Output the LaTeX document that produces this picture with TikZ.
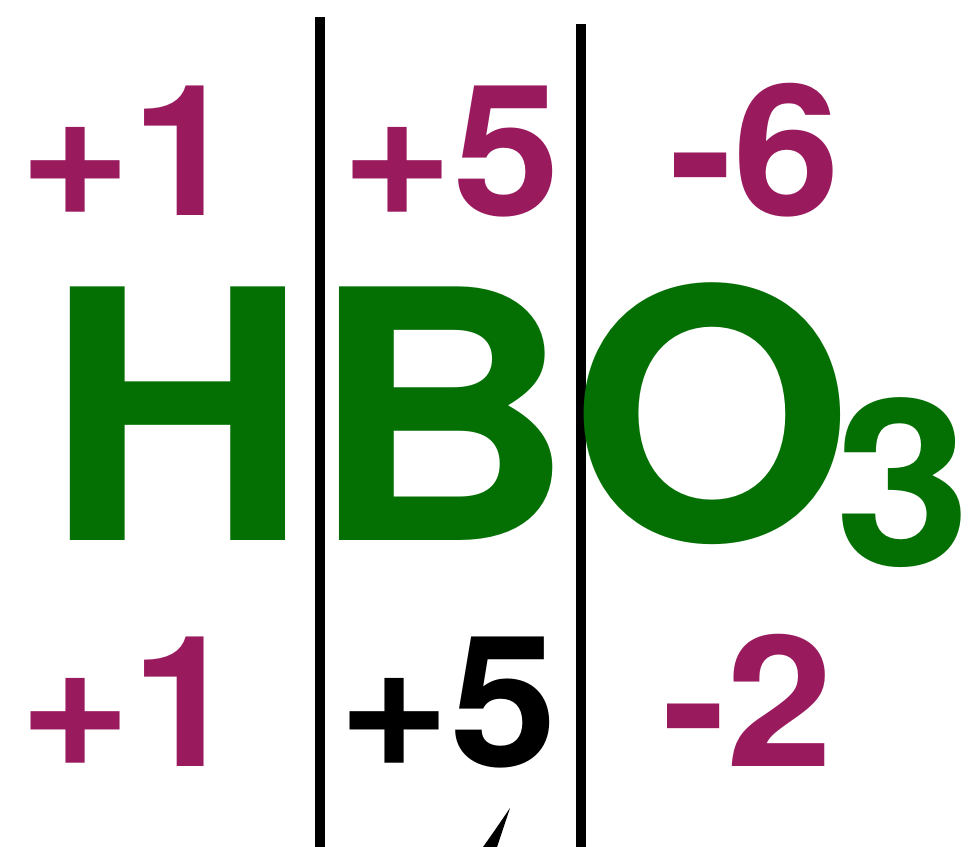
\documentclass[tikz,border=0pt]{standalone}
\usepackage{fontspec}
\setmainfont{TeX Gyre Heros}[FakeStretch=1.05]
\usetikzlibrary{positioning}
\definecolor{oxColor}{HTML}{9A1A5E}
\definecolor{elemColor}{HTML}{047004}
\tikzset{
  num/.style  ={inner sep=0pt, anchor=base, font=\fontsize{52}{52}\selectfont\bfseries},
  ox/.style   ={num, text=oxColor},
  key/.style  ={num, text=black},
  formula/.style={inner sep=0pt, anchor=base west, text=elemColor, font=\fontsize{99}{99}\selectfont\bfseries},
  bar/.style  ={line width=2.8pt},
}
\begin{document}
\begin{tikzpicture}
  \useasboundingbox (0,0) rectangle (9.68,-8.47);

  % column separators
  \coordinate (s1top) at (3.20,-0.17);
  \coordinate (s1bot) at (3.20,-8.47);
  \coordinate (s2top) at (5.81,-0.24);
  \coordinate (s2bot) at (5.81,-8.47);
  \draw[bar] (s1top) -- (s1bot);
  \draw[bar] (s2top) -- (s2bot);

  % oxidation numbers per atom (top)
  \node[ox] (hTop) at (1.29,-2.16) {+1};
  \node[ox] (bTop) at (4.51,-2.16) {+5};
  \node[ox] (oTop) at (7.55,-2.16) {-6};

  % formula
  \node[formula] (acid) at (0.45,-5.40)
    {HBO\kern-0.18cm\raisebox{-0.25cm}{\fontsize{66}{66}\selectfont 3}};

  % oxidation states (bottom)
  \node[ox]  (hBot) at (1.29,-7.66) {+1};
  \node[key] (bBot) at (4.48,-7.66) {+5};
  \node[ox]  (oBot) at (7.48,-7.66) {-2};

  % tip of a mark below the boron value
  \fill (5.10,-8.08) -- (4.97,-8.47) -- (4.83,-8.47) .. controls (4.95,-8.30) .. cycle;
\end{tikzpicture}
\end{document}
